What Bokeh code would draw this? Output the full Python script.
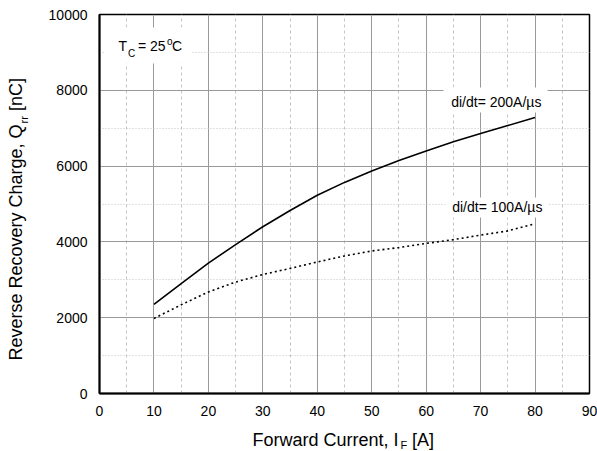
import math
from bokeh.plotting import figure
from bokeh.models import Range1d, FixedTicker, Label, BoxAnnotation
from bokeh.layouts import row, column
from bokeh.core.properties import value
from bokeh.embed import file_html
from bokeh.resources import INLINE

# ---- data ----
forward_current = [10, 15, 20, 25, 30, 35, 40, 45, 50, 55, 60, 65, 70, 75, 80]
qrr_200 = [2350, 2900, 3440, 3930, 4400, 4830, 5230, 5570, 5870, 6150, 6400, 6640, 6860, 7070, 7280]
qrr_100 = [1980, 2340, 2680, 2940, 3140, 3300, 3470, 3630, 3760, 3850, 3960, 4060, 4180, 4290, 4480]
x_ticks = [0, 10, 20, 30, 40, 50, 60, 70, 80, 90]
x_minor = [5, 15, 25, 35, 45, 55, 65, 75, 85]
y_ticks = [0, 2000, 4000, 6000, 8000, 10000]
y_minor = [1000, 3000, 5000, 7000, 9000]

FONT = "Liberation Sans"
W, H = 597, 451
LW = 40      # width of the left strip holding the y title
HM = 422     # height of the main figure
FL, FR, FB = 99, 589, 393   # frame left / right / bottom in page pixels

p = figure(width=W - LW, height=HM, output_backend="svg", toolbar_location=None,
           x_range=Range1d(0, 90), y_range=Range1d(0, 10000),
           min_border_left=FL - LW, min_border_right=W - FR, min_border_top=14,
           min_border_bottom=HM - FB)
p.background_fill_color = "white"
p.border_fill_color = "white"
p.outline_line_color = "black"
p.outline_line_width = 1.5

p.xaxis.ticker = FixedTicker(ticks=x_ticks, minor_ticks=x_minor)
p.yaxis.ticker = FixedTicker(ticks=y_ticks, minor_ticks=y_minor)
for ax in (p.xaxis, p.yaxis):
    ax.axis_line_color = "black"
    ax.axis_line_width = 2
    ax.major_tick_line_color = None
    ax.minor_tick_line_color = None
    ax.major_tick_out = 0
    ax.major_tick_in = 0
    ax.major_label_text_font = FONT
    ax.major_label_text_font_size = "14px"
    ax.major_label_text_color = "black"
p.xaxis.major_label_standoff = 8
p.yaxis.major_label_standoff = 8

p.xgrid.grid_line_color = "#999999"
p.xgrid.grid_line_width = 1
p.xgrid.minor_grid_line_color = "#c4c4c4"
p.xgrid.minor_grid_line_dash = "3 3"
p.ygrid.grid_line_color = "#999999"
p.ygrid.grid_line_width = 1
p.ygrid.minor_grid_line_color = "#c4c4c4"
p.ygrid.minor_grid_line_dash = "1 2"

p.line(forward_current, qrr_200, line_color="black", line_width=1.6)
p.line(forward_current, qrr_100, line_color="black", line_width=1.6, line_dash="2 3")


def box(x0, x1, y0, y1):
    p.add_layout(BoxAnnotation(left=x0 - FL, right=x1 - FL, top=FB - y0, bottom=FB - y1,
                               left_units="screen", right_units="screen",
                               top_units="screen", bottom_units="screen",
                               fill_color="white", fill_alpha=1.0, line_color=None))


def shift(size):
    # rendered baseline sits about 0.3em below the anchor
    return 0.3 * size


def lab(text, px, py, size):
    p.add_layout(Label(x=px - FL, y=FB - (py - shift(size)), x_units="screen", y_units="screen",
                       text=text, text_font=FONT, text_font_size=f"{size}px",
                       text_align="left", text_baseline="alphabetic",
                       text_color="black"))


# white boxes behind in-plot texts
box(104, 191, 27, 63)
box(443, 547, 87, 112)
box(445, 547, 197, 217)

# T_C = 25 °C  (page x, baseline page y)
lab("T", 118, 49.3, 14)
lab("C", 127.5, 56, 10)
lab("= 25", 137.5, 49.3, 14)
lab("o", 166.5, 44.3, 10)
lab("C", 171.5, 49.3, 14)

# curve labels
lab("di/dt= 200A/\u00b5s", 450.7, 106, 14)
lab("di/dt= 100A/\u00b5s", 451.7, 210.7, 14)


def strip(width, height, xr):
    f = figure(width=width, height=height, output_backend="svg", toolbar_location=None,
               x_range=xr, y_range=Range1d(0, height),
               x_axis_type=None, y_axis_type=None,
               min_border=0, min_border_left=0, min_border_right=0,
               min_border_top=0, min_border_bottom=0)
    f.grid.visible = False
    f.outline_line_color = None
    f.background_fill_color = "white"
    f.border_fill_color = "white"
    return f


def txt(f, pieces):
    for text, x, y, size, angle, align in pieces:
        f.text(x=[x], y=[y], text=[text], text_font=value(FONT),
               text_font_size=value(f"{size}px"), text_align=align,
               text_baseline="alphabetic", angle=angle, text_color="black")


# bottom strip: its frame is aligned with the main frame, so x in page pixels
bottom = strip(W - LW, H - HM, Range1d(FL, FR))
txt(bottom, [
    ("Forward Current, I", 398, H - (445 - shift(18)), 18, 0.0, "right"),
    ("F", 400, H - (447.5 - shift(11)), 11, 0.0, "left"),
    ("[A]", 411.5, H - (445 - shift(18)), 18, 0.0, "left"),
])

# left strip: y axis title, rotated (x page pixels, y = H - page y)
left = strip(LW, H, Range1d(0, LW))
ang = math.pi / 2
txt(left, [
    ("Reverse Recovery Charge, Q", 21.2 - shift(18), H - 360, 18, ang, "left"),
    ("rr", 27 - shift(11), H - 123, 11, ang, "left"),
    ("[nC]", 21.2 - shift(18), H - 110.5, 18, ang, "left"),
])

layout = row(left, column(p, bottom))
open("out.html", "w").write(file_html(layout, INLINE))
